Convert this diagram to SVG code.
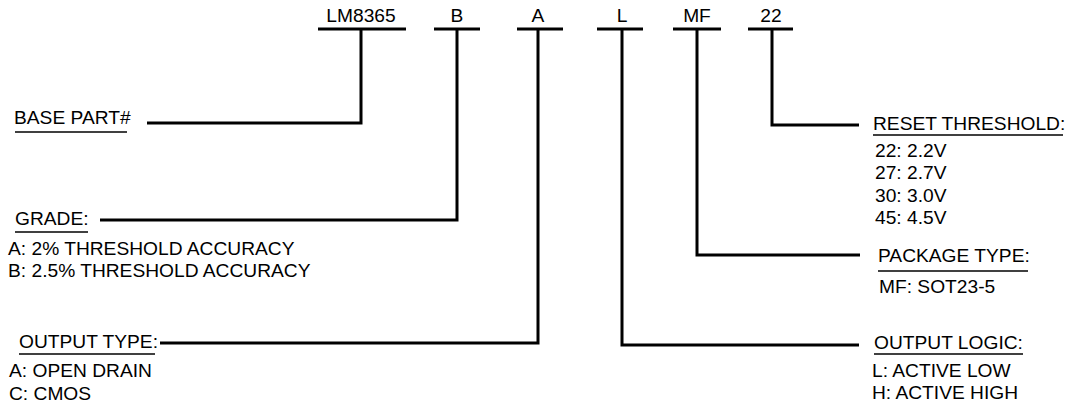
<svg xmlns="http://www.w3.org/2000/svg" width="1073" height="409" viewBox="0 0 1073 409">
<style>
text{font-family:"Liberation Sans",Arial,sans-serif;font-size:19.2px;fill:#000}
.m{text-anchor:middle}
.c{fill:none;stroke:#000;stroke-width:3;stroke-linejoin:miter}
.u{stroke:#000;stroke-width:1.5}
</style>
<rect width="1073" height="409" fill="#fff"/>
<g id="connectors">
<path class="c" d="M318,29H406M361,29V123H147"/>
<path class="c" d="M434,29H480M457,29V220H100"/>
<path class="c" d="M517,29H563M538,29V343H160"/>
<path class="c" d="M597,29H643M622,29V345H859"/>
<path class="c" d="M673,29H721M697,29V255H860"/>
<path class="c" d="M748,29H793M772,29V125H859"/>
</g>
<g id="code">
<text class="m" x="361" y="22">LM8365</text>
<text class="m" x="457" y="22">B</text>
<text class="m" x="538" y="22">A</text>
<text class="m" x="622" y="22">L</text>
<text class="m" x="697" y="22">MF</text>
<text class="m" x="771" y="22">22</text>
</g>
<g id="base">
<text x="14" y="124">BASE PART#</text>
<line class="u" x1="15" y1="132" x2="127" y2="132"/>
</g>
<g id="grade">
<text x="15" y="225">GRADE:</text>
<line class="u" x1="15" y1="232" x2="88" y2="232"/>
<text x="8" y="255">A: 2% THRESHOLD ACCURACY</text>
<text x="8" y="277">B: 2.5% THRESHOLD ACCURACY</text>
</g>
<g id="outtype">
<text x="19" y="348">OUTPUT TYPE:</text>
<line class="u" x1="19" y1="354" x2="155" y2="354"/>
<text x="9" y="377">A: OPEN DRAIN</text>
<text x="9" y="400">C: CMOS</text>
</g>
<g id="reset">
<text x="873" y="130">RESET THRESHOLD:</text>
<line class="u" x1="873" y1="135" x2="1063" y2="135"/>
<text x="875" y="157">22: 2.2V</text>
<text x="875" y="179">27: 2.7V</text>
<text x="875" y="202">30: 3.0V</text>
<text x="875" y="224">45: 4.5V</text>
</g>
<g id="package">
<text x="878" y="262">PACKAGE TYPE:</text>
<line class="u" x1="878" y1="271" x2="1028" y2="271"/>
<text x="879" y="293">MF: SOT23-5</text>
</g>
<g id="logic">
<text x="874" y="349">OUTPUT LOGIC:</text>
<line class="u" x1="874" y1="354" x2="1023" y2="354"/>
<text x="872" y="377">L: ACTIVE LOW</text>
<text x="872" y="399">H: ACTIVE HIGH</text>
</g>
</svg>
